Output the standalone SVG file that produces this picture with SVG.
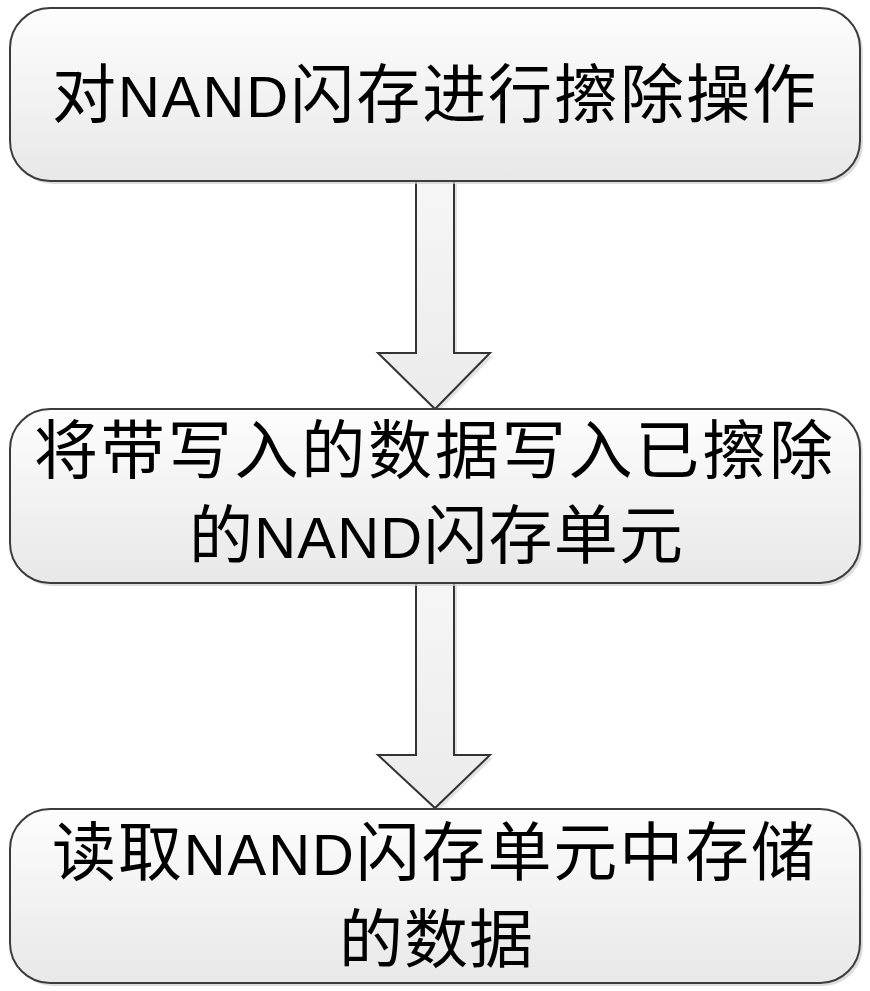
<svg xmlns="http://www.w3.org/2000/svg" width="870" height="991" viewBox="0 0 870 991">
<defs>
<linearGradient id="g" x1="0" y1="0" x2="0" y2="1">
<stop offset="0" stop-color="#fdfdfd"/>
<stop offset="1" stop-color="#e8e8e8"/>
</linearGradient>
<linearGradient id="ga" x1="0" y1="0" x2="0" y2="1">
<stop offset="0" stop-color="#f6f6f6"/>
<stop offset="1" stop-color="#ebebeb"/>
</linearGradient>
</defs>
<style>
.box{fill:url(#g);stroke:#3c3c3c;stroke-width:2}
.sh{fill:#cfcfcf;opacity:0.7}
.arr{fill:url(#ga);stroke:#333;stroke-width:2;stroke-linejoin:miter}
.ash{fill:#cfcfcf;opacity:0.6}
.t{font-family:"Noto Sans CJK SC","Noto Sans CJK JP",sans-serif;font-size:64px;fill:#000}
.l{font-family:"Liberation Sans",Arial,sans-serif;font-size:58px}
</style>
<rect width="870" height="991" fill="#fff"/>
<g id="connectors">
<path class="ash" d="M419,184 H457 V356 H493 L438,412 L381,356 H419 Z"/>
<path class="arr" d="M416,181 H454 V353 H490 L435,409 L378,353 H416 Z"/>
<path class="ash" d="M419,585 H457 V758 H493 L438,811 L381,758 H419 Z"/>
<path class="arr" d="M416,582 H454 V755 H490 L435,808 L378,755 H416 Z"/>
</g>
<g id="node1">
<rect class="sh" x="13" y="11" width="850" height="173" rx="40"/>
<rect class="box" x="10" y="8" width="850" height="173" rx="40"/>
<text class="t" x="52" y="117" textLength="764" lengthAdjust="spacing">对<tspan class="l">NAND</tspan>闪存进行擦除操作</text>
</g>
<g id="node2">
<rect class="sh" x="13" y="412" width="850" height="174" rx="40"/>
<rect class="box" x="10" y="409" width="850" height="174" rx="40"/>
<text class="t" x="34" y="473" textLength="799" lengthAdjust="spacing">将带写入的数据写入已擦除</text>
<text class="t" x="189" y="558" textLength="494" lengthAdjust="spacing">的<tspan class="l">NAND</tspan>闪存单元</text>
</g>
<g id="node3">
<rect class="sh" x="13" y="812" width="850" height="174" rx="40"/>
<rect class="box" x="10" y="809" width="850" height="174" rx="40"/>
<text class="t" x="52" y="875" textLength="763" lengthAdjust="spacing">读取<tspan class="l">NAND</tspan>闪存单元中存储</text>
<text class="t" x="339" y="962" textLength="194" lengthAdjust="spacing">的数据</text>
</g>
</svg>
